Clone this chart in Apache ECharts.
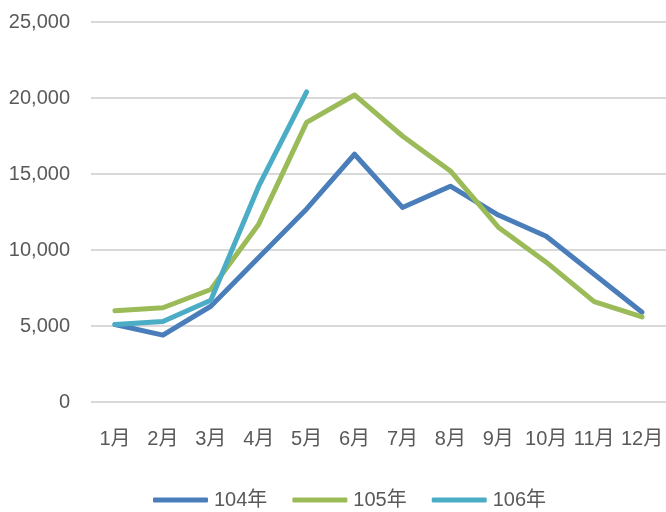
<!DOCTYPE html>
<html><head><meta charset="utf-8">
<script src="https://cdn.jsdelivr.net/npm/echarts@6/dist/echarts.min.js"></script>
<style>html,body{margin:0;padding:0;background:#fff}#c{width:666px;height:512px}</style>
</head><body><div id="c"></div>
<script>
var months = ['1月','2月','3月','4月','5月','6月','7月','8月','9月','10月','11月','12月'];
var yTicks = [0, 5000, 10000, 15000, 20000, 25000];
var y104 = [5100, 4400, 6300, 9500, 12700, 16300, 12800, 14200, 12300, 10900, 8400, 5900];
var y105 = [6000, 6200, 7400, 11700, 18400, 20200, 17500, 15200, 11500, 9200, 6600, 5600];
var y106 = [5100, 5300, 6700, 14200, 20400];
var names = ['104年','105年','106年'];
var colors = ['#4a7ebb','#9bbb59','#4bacc6'];
var FONT = "'Liberation Sans','Noto Sans CJK TC',sans-serif";
var chart = echarts.init(document.getElementById('c'));
function mk(i, data){
  return {name:names[i], type:'line', data:data, symbol:'none', smooth:false,
    lineStyle:{width:5, color:colors[i], cap:'round', join:'round'}, itemStyle:{color:colors[i]}, z:2+i};
}
chart.setOption({
  animation:false,
  textStyle:{fontFamily:FONT},
  grid:{left:91, top:22, width:580, height:380, containLabel:false},
  xAxis:{type:'category', data:months, boundaryGap:true,
    axisLine:{show:false}, axisTick:{show:false},
    axisLabel:{color:'#595959', fontSize:20, margin:27, interval:0, fontFamily:FONT}},
  yAxis:{type:'value', min:yTicks[0], max:yTicks[yTicks.length-1], interval:5000,
    axisLine:{show:false}, axisTick:{show:false},
    splitLine:{lineStyle:{color:'#d9d9d9', width:2}},
    axisLabel:{color:'#595959', fontSize:20, margin:21, fontFamily:FONT,
      formatter:function(v){return v.toLocaleString('en-US');}}},
  legend:{left:148, top:485, itemWidth:55, itemHeight:5, itemGap:25, icon:'roundRect',
    textStyle:{color:'#595959', fontSize:20, fontFamily:FONT, padding:[0,0,0,1]},
    data:names.map(function(n,i){return {name:n, itemStyle:{color:colors[i]}};})},
  series:[mk(0,y104), mk(1,y105), mk(2,y106)]
});
</script></body></html>
